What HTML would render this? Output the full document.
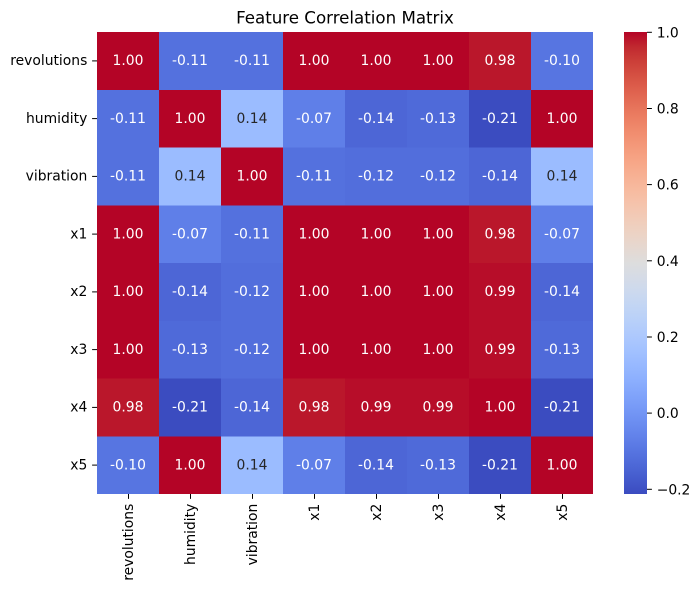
<!DOCTYPE html>
<html><head><meta charset="utf-8"><style>
html,body{margin:0;padding:0;background:#fff;}
svg{display:block;}
text{font-family:"DejaVu Sans","Liberation Sans",sans-serif;}
</style></head><body>
<svg width="700" height="591" viewBox="0 0 700 591" xmlns="http://www.w3.org/2000/svg">
<defs>
<linearGradient id="cw" x1="0" y1="0" x2="0" y2="1">
<stop offset="0" stop-color="rgb(180,4,38)"/>
<stop offset="0.03125" stop-color="rgb(192,40,47)"/>
<stop offset="0.0625" stop-color="rgb(203,62,56)"/>
<stop offset="0.09375" stop-color="rgb(213,80,66)"/>
<stop offset="0.125" stop-color="rgb(222,96,77)"/>
<stop offset="0.15625" stop-color="rgb(229,112,88)"/>
<stop offset="0.1875" stop-color="rgb(236,127,99)"/>
<stop offset="0.21875" stop-color="rgb(241,141,111)"/>
<stop offset="0.25" stop-color="rgb(244,154,123)"/>
<stop offset="0.28125" stop-color="rgb(247,166,135)"/>
<stop offset="0.3125" stop-color="rgb(247,177,148)"/>
<stop offset="0.34375" stop-color="rgb(247,187,160)"/>
<stop offset="0.375" stop-color="rgb(245,196,173)"/>
<stop offset="0.40625" stop-color="rgb(241,204,185)"/>
<stop offset="0.4375" stop-color="rgb(236,211,197)"/>
<stop offset="0.46875" stop-color="rgb(229,216,209)"/>
<stop offset="0.5" stop-color="rgb(221,221,221)"/>
<stop offset="0.53125" stop-color="rgb(213,219,230)"/>
<stop offset="0.5625" stop-color="rgb(204,217,238)"/>
<stop offset="0.59375" stop-color="rgb(194,213,244)"/>
<stop offset="0.625" stop-color="rgb(184,208,249)"/>
<stop offset="0.65625" stop-color="rgb(174,201,253)"/>
<stop offset="0.6875" stop-color="rgb(163,194,255)"/>
<stop offset="0.71875" stop-color="rgb(152,185,255)"/>
<stop offset="0.75" stop-color="rgb(141,176,254)"/>
<stop offset="0.78125" stop-color="rgb(130,165,251)"/>
<stop offset="0.8125" stop-color="rgb(119,154,247)"/>
<stop offset="0.84375" stop-color="rgb(108,142,241)"/>
<stop offset="0.875" stop-color="rgb(98,130,234)"/>
<stop offset="0.90625" stop-color="rgb(87,117,225)"/>
<stop offset="0.9375" stop-color="rgb(77,104,215)"/>
<stop offset="0.96875" stop-color="rgb(68,90,204)"/>
<stop offset="1" stop-color="rgb(59,76,192)"/>
</linearGradient>
</defs>

<!-- Title -->
<text x="345" y="23.5" font-size="16.67" text-anchor="middle" fill="#000">Feature Correlation Matrix</text>

<!-- Heatmap cells -->
<g shape-rendering="crispEdges">
<!-- row 0 revolutions y=32 -->
<rect x="97" y="32" width="62.5" height="58.2" fill="#b40426"/>
<rect x="159" y="32" width="62.5" height="58.2" fill="#5471de"/>
<rect x="221" y="32" width="62.5" height="58.2" fill="#5471de"/>
<rect x="283" y="32" width="62.5" height="58.2" fill="#b40426"/>
<rect x="345" y="32" width="62.5" height="58.2" fill="#b40426"/>
<rect x="407" y="32" width="62.5" height="58.2" fill="#b40426"/>
<rect x="469" y="32" width="62.5" height="58.2" fill="#ba172b"/>
<rect x="531" y="32" width="62" height="58.2" fill="#5775e1"/>
<!-- row 1 humidity y=89.75 -->
<rect x="97" y="89.75" width="62.5" height="58.2" fill="#5471de"/>
<rect x="159" y="89.75" width="62.5" height="58.2" fill="#b40426"/>
<rect x="221" y="89.75" width="62.5" height="58.2" fill="#9bbcff"/>
<rect x="283" y="89.75" width="62.5" height="58.2" fill="#5f7fe8"/>
<rect x="345" y="89.75" width="62.5" height="58.2" fill="#4d66d6"/>
<rect x="407" y="89.75" width="62.5" height="58.2" fill="#4f6ad9"/>
<rect x="469" y="89.75" width="62.5" height="58.2" fill="#3b4cc0"/>
<rect x="531" y="89.75" width="62" height="58.2" fill="#b40426"/>
<!-- row 2 vibration y=147.5 -->
<rect x="97" y="147.5" width="62.5" height="58.2" fill="#5471de"/>
<rect x="159" y="147.5" width="62.5" height="58.2" fill="#9bbcff"/>
<rect x="221" y="147.5" width="62.5" height="58.2" fill="#b40426"/>
<rect x="283" y="147.5" width="62.5" height="58.2" fill="#5471de"/>
<rect x="345" y="147.5" width="62.5" height="58.2" fill="#526edc"/>
<rect x="407" y="147.5" width="62.5" height="58.2" fill="#526edc"/>
<rect x="469" y="147.5" width="62.5" height="58.2" fill="#4d66d6"/>
<rect x="531" y="147.5" width="62" height="58.2" fill="#9bbcff"/>
<!-- row 3 x1 y=205.25 -->
<rect x="97" y="205.25" width="62.5" height="58.2" fill="#b40426"/>
<rect x="159" y="205.25" width="62.5" height="58.2" fill="#5f7fe8"/>
<rect x="221" y="205.25" width="62.5" height="58.2" fill="#5471de"/>
<rect x="283" y="205.25" width="62.5" height="58.2" fill="#b40426"/>
<rect x="345" y="205.25" width="62.5" height="58.2" fill="#b40426"/>
<rect x="407" y="205.25" width="62.5" height="58.2" fill="#b40426"/>
<rect x="469" y="205.25" width="62.5" height="58.2" fill="#ba172b"/>
<rect x="531" y="205.25" width="62" height="58.2" fill="#5f7fe8"/>
<!-- row 4 x2 y=263 -->
<rect x="97" y="263" width="62.5" height="58.2" fill="#b40426"/>
<rect x="159" y="263" width="62.5" height="58.2" fill="#4d66d6"/>
<rect x="221" y="263" width="62.5" height="58.2" fill="#526edc"/>
<rect x="283" y="263" width="62.5" height="58.2" fill="#b40426"/>
<rect x="345" y="263" width="62.5" height="58.2" fill="#b40426"/>
<rect x="407" y="263" width="62.5" height="58.2" fill="#b40426"/>
<rect x="469" y="263" width="62.5" height="58.2" fill="#b70d29"/>
<rect x="531" y="263" width="62" height="58.2" fill="#4d66d6"/>
<!-- row 5 x3 y=320.75 -->
<rect x="97" y="320.75" width="62.5" height="58.2" fill="#b40426"/>
<rect x="159" y="320.75" width="62.5" height="58.2" fill="#4f6ad9"/>
<rect x="221" y="320.75" width="62.5" height="58.2" fill="#526edc"/>
<rect x="283" y="320.75" width="62.5" height="58.2" fill="#b40426"/>
<rect x="345" y="320.75" width="62.5" height="58.2" fill="#b40426"/>
<rect x="407" y="320.75" width="62.5" height="58.2" fill="#b40426"/>
<rect x="469" y="320.75" width="62.5" height="58.2" fill="#b70d29"/>
<rect x="531" y="320.75" width="62" height="58.2" fill="#4f6ad9"/>
<!-- row 6 x4 y=378.5 -->
<rect x="97" y="378.5" width="62.5" height="58.2" fill="#ba172b"/>
<rect x="159" y="378.5" width="62.5" height="58.2" fill="#3b4cc0"/>
<rect x="221" y="378.5" width="62.5" height="58.2" fill="#4d66d6"/>
<rect x="283" y="378.5" width="62.5" height="58.2" fill="#ba172b"/>
<rect x="345" y="378.5" width="62.5" height="58.2" fill="#b70d29"/>
<rect x="407" y="378.5" width="62.5" height="58.2" fill="#b70d29"/>
<rect x="469" y="378.5" width="62.5" height="58.2" fill="#b40426"/>
<rect x="531" y="378.5" width="62" height="58.2" fill="#3b4cc0"/>
<!-- row 7 x5 y=436.25 -->
<rect x="97" y="436.25" width="62.5" height="57.75" fill="#5775e1"/>
<rect x="159" y="436.25" width="62.5" height="57.75" fill="#b40426"/>
<rect x="221" y="436.25" width="62.5" height="57.75" fill="#9bbcff"/>
<rect x="283" y="436.25" width="62.5" height="57.75" fill="#5f7fe8"/>
<rect x="345" y="436.25" width="62.5" height="57.75" fill="#4d66d6"/>
<rect x="407" y="436.25" width="62.5" height="57.75" fill="#4f6ad9"/>
<rect x="469" y="436.25" width="62.5" height="57.75" fill="#3b4cc0"/>
<rect x="531" y="436.25" width="62" height="57.75" fill="#b40426"/>
</g>

<!-- Annotations -->
<g font-size="13.89" text-anchor="middle" fill="#ffffff">
<text x="128" y="65.2">1.00</text><text x="190" y="65.2">-0.11</text><text x="252" y="65.2">-0.11</text><text x="314" y="65.2">1.00</text><text x="376" y="65.2">1.00</text><text x="438" y="65.2">1.00</text><text x="500" y="65.2">0.98</text><text x="562" y="65.2">-0.10</text>
<text x="128" y="122.9">-0.11</text><text x="190" y="122.9">1.00</text><text x="252" y="122.9" fill="#262626">0.14</text><text x="314" y="122.9">-0.07</text><text x="376" y="122.9">-0.14</text><text x="438" y="122.9">-0.13</text><text x="500" y="122.9">-0.21</text><text x="562" y="122.9">1.00</text>
<text x="128" y="180.7">-0.11</text><text x="190" y="180.7" fill="#262626">0.14</text><text x="252" y="180.7">1.00</text><text x="314" y="180.7">-0.11</text><text x="376" y="180.7">-0.12</text><text x="438" y="180.7">-0.12</text><text x="500" y="180.7">-0.14</text><text x="562" y="180.7" fill="#262626">0.14</text>
<text x="128" y="238.4">1.00</text><text x="190" y="238.4">-0.07</text><text x="252" y="238.4">-0.11</text><text x="314" y="238.4">1.00</text><text x="376" y="238.4">1.00</text><text x="438" y="238.4">1.00</text><text x="500" y="238.4">0.98</text><text x="562" y="238.4">-0.07</text>
<text x="128" y="296.2">1.00</text><text x="190" y="296.2">-0.14</text><text x="252" y="296.2">-0.12</text><text x="314" y="296.2">1.00</text><text x="376" y="296.2">1.00</text><text x="438" y="296.2">1.00</text><text x="500" y="296.2">0.99</text><text x="562" y="296.2">-0.14</text>
<text x="128" y="353.9">1.00</text><text x="190" y="353.9">-0.13</text><text x="252" y="353.9">-0.12</text><text x="314" y="353.9">1.00</text><text x="376" y="353.9">1.00</text><text x="438" y="353.9">1.00</text><text x="500" y="353.9">0.99</text><text x="562" y="353.9">-0.13</text>
<text x="128" y="411.7">0.98</text><text x="190" y="411.7">-0.21</text><text x="252" y="411.7">-0.14</text><text x="314" y="411.7">0.98</text><text x="376" y="411.7">0.99</text><text x="438" y="411.7">0.99</text><text x="500" y="411.7">1.00</text><text x="562" y="411.7">-0.21</text>
<text x="128" y="469.4">-0.10</text><text x="190" y="469.4">1.00</text><text x="252" y="469.4" fill="#262626">0.14</text><text x="314" y="469.4">-0.07</text><text x="376" y="469.4">-0.14</text><text x="438" y="469.4">-0.13</text><text x="500" y="469.4">-0.21</text><text x="562" y="469.4">1.00</text>
</g>

<!-- Y ticks -->
<g stroke="#000" stroke-width="1">
<line x1="92.1" y1="60.9" x2="97" y2="60.9"/>
<line x1="92.1" y1="118.6" x2="97" y2="118.6"/>
<line x1="92.1" y1="176.4" x2="97" y2="176.4"/>
<line x1="92.1" y1="234.1" x2="97" y2="234.1"/>
<line x1="92.1" y1="291.9" x2="97" y2="291.9"/>
<line x1="92.1" y1="349.6" x2="97" y2="349.6"/>
<line x1="92.1" y1="407.4" x2="97" y2="407.4"/>
<line x1="92.1" y1="465.1" x2="97" y2="465.1"/>
</g>
<g font-size="13.89" text-anchor="end" fill="#000">
<text x="87.3" y="65.2">revolutions</text>
<text x="87.3" y="122.9">humidity</text>
<text x="87.3" y="180.7">vibration</text>
<text x="87.3" y="238.4">x1</text>
<text x="87.3" y="296.2">x2</text>
<text x="87.3" y="353.9">x3</text>
<text x="87.3" y="411.7">x4</text>
<text x="87.3" y="469.4">x5</text>
</g>

<!-- X ticks -->
<g stroke="#000" stroke-width="1">
<line x1="128.5" y1="494" x2="128.5" y2="498.9"/>
<line x1="190.5" y1="494" x2="190.5" y2="498.9"/>
<line x1="252.5" y1="494" x2="252.5" y2="498.9"/>
<line x1="314.5" y1="494" x2="314.5" y2="498.9"/>
<line x1="376.5" y1="494" x2="376.5" y2="498.9"/>
<line x1="438.5" y1="494" x2="438.5" y2="498.9"/>
<line x1="500.5" y1="494" x2="500.5" y2="498.9"/>
<line x1="562.5" y1="494" x2="562.5" y2="498.9"/>
</g>
<g font-size="13.89" text-anchor="end" fill="#000">
<text transform="translate(133,503.7) rotate(-90)">revolutions</text>
<text transform="translate(195,503.7) rotate(-90)">humidity</text>
<text transform="translate(257,503.7) rotate(-90)">vibration</text>
<text transform="translate(319,503.7) rotate(-90)">x1</text>
<text transform="translate(381,503.7) rotate(-90)">x2</text>
<text transform="translate(443,503.7) rotate(-90)">x3</text>
<text transform="translate(505,503.7) rotate(-90)">x4</text>
<text transform="translate(567,503.7) rotate(-90)">x5</text>
</g>

<!-- Colorbar -->
<rect x="624" y="32" width="23" height="462" fill="url(#cw)"/>
<g stroke="#000" stroke-width="1">
<line x1="647" y1="32.3" x2="651.9" y2="32.3"/>
<line x1="647" y1="108.5" x2="651.9" y2="108.5"/>
<line x1="647" y1="184.6" x2="651.9" y2="184.6"/>
<line x1="647" y1="260.8" x2="651.9" y2="260.8"/>
<line x1="647" y1="337" x2="651.9" y2="337"/>
<line x1="647" y1="413.1" x2="651.9" y2="413.1"/>
<line x1="647" y1="489.3" x2="651.9" y2="489.3"/>
</g>
<g font-size="13.89" fill="#000">
<text x="656.7" y="37.3">1.0</text>
<text x="656.7" y="113.5">0.8</text>
<text x="656.7" y="189.6">0.6</text>
<text x="656.7" y="265.8">0.4</text>
<text x="656.7" y="342">0.2</text>
<text x="656.7" y="418.1">0.0</text>
<text x="656.7" y="494.3">−0.2</text>
</g>
</svg>
</body></html>
